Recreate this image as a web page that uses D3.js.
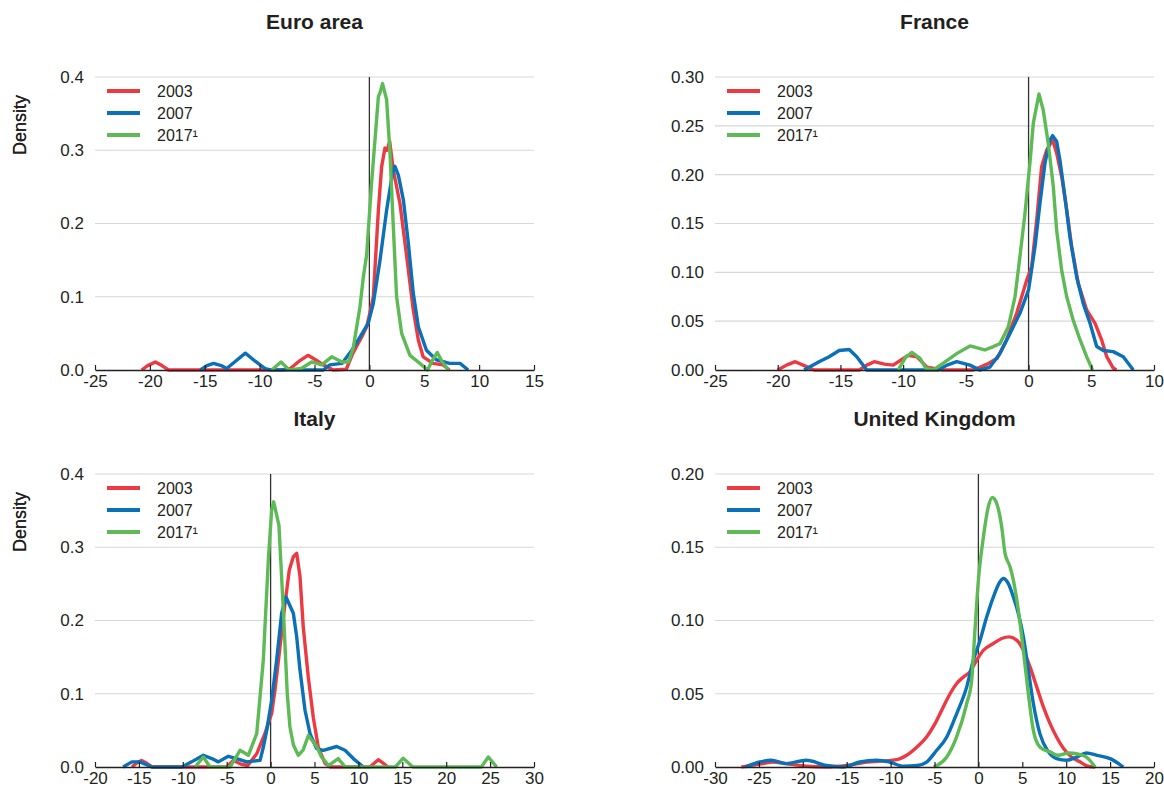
<!DOCTYPE html>
<html>
<head>
<meta charset="utf-8">
<script src="https://cdn.jsdelivr.net/npm/d3@7"></script>
<style>
  html, body { margin: 0; padding: 0; background: #fff; }
  svg { display: block; font-family: "Liberation Sans", Arial, Helvetica, sans-serif; }
</style>
</head>
<body>
<svg id="chart" width="1164" height="788"></svg>
<script>
// Kernel density estimates of growth rates, by year. Each point is [growth, density].
const seriesNames = ["2003", "2007", "2017\u00B9"];
const seriesColors = ["#ec3a43", "#0a70b8", "#5dba55"];

const euro2003 = [[-20.75,0],[-20.2,0.006],[-19.5,0.011],[-18.9,0.006],[-18.3,0],[-8,0],[-7.2,0.002],[-6.4,0.012],[-5.6,0.02],[-4.9,0.014],[-4.2,0.007],[-3.3,0],[-2.1,0.001],[-1.5,0.023],[-0.7,0.045],[-0.25,0.059],[0,0.075],[0.36,0.1],[0.5,0.136],[0.82,0.218],[1.12,0.278],[1.42,0.303],[1.6,0.3],[1.85,0.312],[2.18,0.273],[2.79,0.227],[3.4,0.155],[4.0,0.082],[4.46,0.041],[4.9,0.018],[5.8,0.009],[6.7,0.007],[7.3,0]];
const euro2007 = [[-15.4,0],[-14.8,0.006],[-14.2,0.009],[-13.5,0.006],[-13,0.002],[-12.2,0.012],[-11.3,0.023],[-10.4,0.012],[-9.5,0.002],[-9,0],[-4.2,0],[-3.6,0.007],[-2.5,0.009],[-1.6,0.027],[-0.86,0.045],[-0.1,0.064],[0.36,0.091],[0.97,0.15],[1.57,0.218],[2.1,0.268],[2.33,0.278],[2.64,0.266],[3.1,0.232],[3.55,0.173],[4.0,0.105],[4.46,0.059],[5.2,0.027],[6.1,0.014],[7.3,0.009],[8.26,0.009],[9.0,0]];
const euro2017 = [[-8.9,0],[-8.05,0.011],[-7.3,0],[-6.2,0.002],[-5.26,0.011],[-4.35,0.007],[-3.43,0.018],[-2.5,0.011],[-1.9,0.011],[-1.47,0.03],[-0.86,0.086],[-0.55,0.127],[-0.25,0.157],[0.2,0.255],[0.82,0.373],[1.0,0.38],[1.2,0.391],[1.57,0.369],[1.88,0.296],[2.18,0.196],[2.48,0.1],[2.94,0.05],[3.7,0.02],[4.6,0.009],[5.3,0],[5.7,0.012],[6.19,0.024],[6.6,0.012],[7.2,0]];

const france2003 = [[-20,0],[-19.3,0.005],[-18.6,0.0085],[-17.8,0.004],[-17.1,0],[-13.5,0],[-12.9,0.005],[-12.3,0.0085],[-11.5,0.006],[-10.8,0.005],[-10.2,0.01],[-9.6,0.015],[-8.9,0.0136],[-8.1,0.003],[-6.9,0],[-4.4,0],[-3.3,0.006],[-2.5,0.012],[-1.75,0.031],[-0.95,0.058],[-0.15,0.092],[0.25,0.106],[0.65,0.154],[1.04,0.208],[1.44,0.225],[1.92,0.2355],[2.24,0.222],[2.64,0.198],[3.04,0.164],[3.44,0.126],[3.96,0.0887],[4.63,0.0614],[5.3,0.0478],[5.83,0.0307],[6.23,0.0136],[6.75,0.002],[7.0,0]];
const france2007 = [[-17.9,0],[-16.7,0.0085],[-15.9,0.0136],[-15.1,0.02],[-14.3,0.021],[-13.7,0.0136],[-12.9,0],[-7.2,0],[-6.5,0.005],[-5.73,0.0085],[-4.67,0.005],[-3.9,0],[-3.08,0.003],[-2.28,0.017],[-1.48,0.0375],[-0.69,0.058],[0,0.082],[0.51,0.126],[0.91,0.171],[1.31,0.212],[1.71,0.2355],[1.92,0.24],[2.24,0.234],[2.5,0.215],[2.9,0.177],[3.3,0.136],[3.83,0.0955],[4.36,0.068],[4.9,0.0478],[5.43,0.024],[5.96,0.02],[6.75,0.0188],[7.55,0.0136],[8.35,0]];
const france2017 = [[-10.4,0],[-9.8,0.013],[-9.3,0.018],[-8.65,0.012],[-8.2,0.002],[-7.6,0],[-6.8,0.007],[-5.7,0.017],[-4.67,0.0246],[-3.5,0.0205],[-2.8,0.024],[-2.28,0.027],[-1.62,0.044],[-1.08,0.075],[-0.69,0.116],[-0.29,0.16],[0.11,0.212],[0.38,0.253],[0.83,0.2826],[1.17,0.266],[1.57,0.232],[1.97,0.188],[2.24,0.143],[2.64,0.102],[3.04,0.075],[3.56,0.051],[4.1,0.031],[4.63,0.0137],[5.1,0]];

const italy2003 = [[-15.8,0],[-15.2,0.006],[-14.7,0.009],[-14.1,0.005],[-13.5,0],[-5,0],[-4.25,0.009],[-3.4,0.004],[-2.6,0.002],[-1.58,0.018],[-0.64,0.046],[0.12,0.073],[0.5,0.105],[1.07,0.164],[1.64,0.223],[2.13,0.269],[2.59,0.287],[2.97,0.2917],[3.35,0.26],[3.72,0.191],[4.29,0.123],[4.86,0.068],[5.43,0.027],[6.2,0.005],[6.8,0],[11.3,0],[12.27,0.01],[13.4,0]];
const italy2007 = [[-16.8,0],[-15.8,0.007],[-14.9,0.007],[-13.5,0],[-10.1,0],[-9,0.007],[-7.66,0.016],[-6.7,0.0115],[-5.96,0.007],[-4.82,0.0146],[-3.86,0.0115],[-2.72,0.007],[-1.2,0.009],[-0.83,0.027],[-0.44,0.05],[0.12,0.091],[0.69,0.146],[1.26,0.21],[1.75,0.232],[2.59,0.21],[2.97,0.178],[3.35,0.132],[3.92,0.0775],[4.49,0.0456],[5.25,0.025],[6.0,0.0228],[7.53,0.028],[8.47,0.0228],[9.42,0.0115],[10.56,0]];
const italy2017 = [[-8.6,0],[-7.66,0.0137],[-6.9,0],[-4.6,0],[-3.48,0.0228],[-2.54,0.016],[-1.58,0.0456],[-0.83,0.146],[-0.26,0.282],[0.12,0.351],[0.35,0.362],[0.95,0.33],[1.45,0.214],[1.9,0.1],[2.2,0.055],[2.6,0.03],[3.15,0.016],[3.7,0.023],[4.3,0.043],[5.25,0.028],[5.8,0.0137],[6.6,0.002],[7.7,0.0115],[8.5,0],[14.2,0],[15.1,0.012],[16.2,0],[24.0,0],[24.8,0.0137],[25.75,0]];

const uk2003 = [[-27,0],[-24.9,0.002],[-23.4,0.0034],[-21.9,0.0023],[-19.6,0.0005],[-17.3,0],[-15,0.001],[-12.7,0.0034],[-11.2,0.004],[-9.3,0.005],[-8.17,0.008],[-7,0.0137],[-5.9,0.0205],[-4.94,0.0296],[-4,0.041],[-3.23,0.05],[-2.47,0.057],[-1.7,0.0615],[-0.96,0.065],[-0.19,0.073],[0.57,0.0797],[1.7,0.0843],[2.65,0.0877],[3.52,0.0888],[4.36,0.0866],[5.12,0.0797],[5.88,0.0683],[6.64,0.0547],[7.4,0.041],[8.16,0.0296],[8.9,0.0205],[9.7,0.0126],[10.6,0.0068],[11.6,0.0034],[12.5,0.0005],[13.3,0]];
const uk2007 = [[-26.6,0],[-24.9,0.0034],[-23.6,0.0046],[-21.9,0.0023],[-19.6,0.0046],[-17.3,0.001],[-15.4,0],[-13.5,0.0034],[-11.6,0.0046],[-10.1,0.0034],[-8.55,0.0005],[-7,0.001],[-5.9,0.0034],[-4.75,0.0114],[-3.6,0.0205],[-2.47,0.0365],[-1.33,0.0547],[-0.57,0.073],[0.19,0.0866],[0.95,0.1025],[1.7,0.116],[2.46,0.1264],[2.84,0.1287],[3.4,0.1253],[3.98,0.116],[4.55,0.1048],[5.12,0.0888],[5.69,0.066],[6.26,0.0433],[7,0.0228],[7.97,0.0103],[8.9,0.0057],[10.06,0.0046],[11.2,0.0068],[12.3,0.0096],[13.5,0.008],[15,0.0057],[16.5,0]];
const uk2017 = [[-5.1,0],[-3.6,0.0068],[-2.48,0.0205],[-1.34,0.043],[-0.77,0.059],[-0.39,0.0934],[0,0.1276],[0.57,0.157],[1.13,0.1777],[1.59,0.184],[2.08,0.18],[2.65,0.164],[3.03,0.146],[3.6,0.1367],[3.98,0.1276],[4.55,0.107],[5.12,0.0797],[5.69,0.05],[6.26,0.025],[7,0.0137],[8.16,0.0103],[9.1,0.008],[10.25,0.0096],[11.4,0.0087],[12.3,0.0068],[13.3,0]];

// Axis tick values for each panel
const euroXTicks = [-25, -20, -15, -10, -5, 0, 5, 10, 15];
const euroYTicks = [0, 0.1, 0.2, 0.3, 0.4];
const franceXTicks = [-25, -20, -15, -10, -5, 0, 5, 10];
const franceYTicks = [0, 0.05, 0.10, 0.15, 0.20, 0.25, 0.30];
const italyXTicks = [-20, -15, -10, -5, 0, 5, 10, 15, 20, 25, 30];
const italyYTicks = [0, 0.1, 0.2, 0.3, 0.4];
const ukXTicks = [-30, -25, -20, -15, -10, -5, 0, 5, 10, 15, 20];
const ukYTicks = [0, 0.05, 0.10, 0.15, 0.20];

const panels = [
  { title: "Euro area", series: [euro2003, euro2007, euro2017], xTicks: euroXTicks, yTicks: euroYTicks, yFmt: ".1f",
    left: 95, right: 534, top: 77, bottom: 370, curve: d3.curveLinear },
  { title: "France", series: [france2003, france2007, france2017], xTicks: franceXTicks, yTicks: franceYTicks, yFmt: ".2f",
    left: 715, right: 1154, top: 77, bottom: 370, curve: d3.curveLinear },
  { title: "Italy", series: [italy2003, italy2007, italy2017], xTicks: italyXTicks, yTicks: italyYTicks, yFmt: ".1f",
    left: 95, right: 534, top: 474, bottom: 767, curve: d3.curveLinear },
  { title: "United Kingdom", series: [uk2003, uk2007, uk2017], xTicks: ukXTicks, yTicks: ukYTicks, yFmt: ".2f",
    left: 715, right: 1154, top: 474, bottom: 767, curve: d3.curveMonotoneX }
];

const svg = d3.select("#chart");
const textColor = "#231f20";

panels.forEach(p => {
  const g = svg.append("g");
  const x = d3.scaleLinear().domain(d3.extent(p.xTicks)).range([p.left, p.right]);
  const y = d3.scaleLinear().domain(d3.extent(p.yTicks)).range([p.bottom, p.top]);

  // Panel title
  g.append("text")
    .attr("x", (p.left + p.right) / 2)
    .attr("y", p.top - 48)
    .attr("text-anchor", "middle")
    .attr("font-size", 21)
    .attr("font-weight", "bold")
    .attr("fill", textColor)
    .text(p.title);

  // Horizontal gridlines
  g.append("g").selectAll("line")
    .data(p.yTicks.filter(v => v !== 0))
    .join("line")
    .attr("x1", p.left).attr("x2", p.right)
    .attr("y1", d => y(d)).attr("y2", d => y(d))
    .attr("stroke", "#d7d7d7").attr("stroke-width", 1.2);

  // Y axis labels
  const yAxis = d3.axisLeft(y).tickValues(p.yTicks).tickFormat(d3.format(p.yFmt)).tickSize(0).tickPadding(11);
  const ya = g.append("g").attr("transform", `translate(${p.left},0)`).call(yAxis);
  ya.select(".domain").remove();
  ya.selectAll("text").attr("font-size", 17).attr("fill", textColor).attr("font-family", null);

  // Y axis title
  g.append("text")
    .attr("transform", `translate(26,${p.top + 48}) rotate(-90)`)
    .attr("text-anchor", "middle")
    .attr("font-size", 18)
    .attr("fill", textColor)
    .text("Density");

  // Vertical reference line at zero
  g.append("line")
    .attr("x1", x(0)).attr("x2", x(0))
    .attr("y1", p.top).attr("y2", p.bottom)
    .attr("stroke", "#333").attr("stroke-width", 1.3);

  // Density curves
  const line = d3.line().x(d => x(d[0])).y(d => y(d[1])).curve(p.curve);
  p.series.forEach((s, i) => {
    g.append("path")
      .datum(s)
      .attr("d", line)
      .attr("fill", "none")
      .attr("stroke", seriesColors[i])
      .attr("stroke-width", 3.4)
      .attr("stroke-linejoin", "round");
  });

  // X axis
  const xAxis = d3.axisBottom(x).tickValues(p.xTicks).tickFormat(d3.format("d")).tickSize(-5).tickSizeOuter(0).tickPadding(5);
  const xa = g.append("g").attr("transform", `translate(0,${p.bottom})`).call(xAxis);
  xa.select(".domain").attr("stroke", "#231f20").attr("stroke-width", 1.5);
  xa.selectAll(".tick line").attr("stroke", "#231f20").attr("stroke-width", 1.2);
  xa.selectAll("text").attr("font-size", 17).attr("fill", textColor).attr("font-family", null)
    .text(d => d < 0 ? "-" + Math.abs(d) : String(d));

  // Legend
  const lg = g.append("g").attr("transform", `translate(${p.left + 12},${p.top + 14})`);
  seriesNames.forEach((name, i) => {
    const row = lg.append("g").attr("transform", `translate(0,${i * 22})`);
    row.append("line").attr("x1", 0).attr("x2", 33).attr("y1", 0).attr("y2", 0)
      .attr("stroke", seriesColors[i]).attr("stroke-width", 4);
    row.append("text").attr("x", 50).attr("y", 0).attr("dy", "0.35em")
      .attr("font-size", 16).attr("fill", textColor).text(name);
  });
});
</script>
</body>
</html>
